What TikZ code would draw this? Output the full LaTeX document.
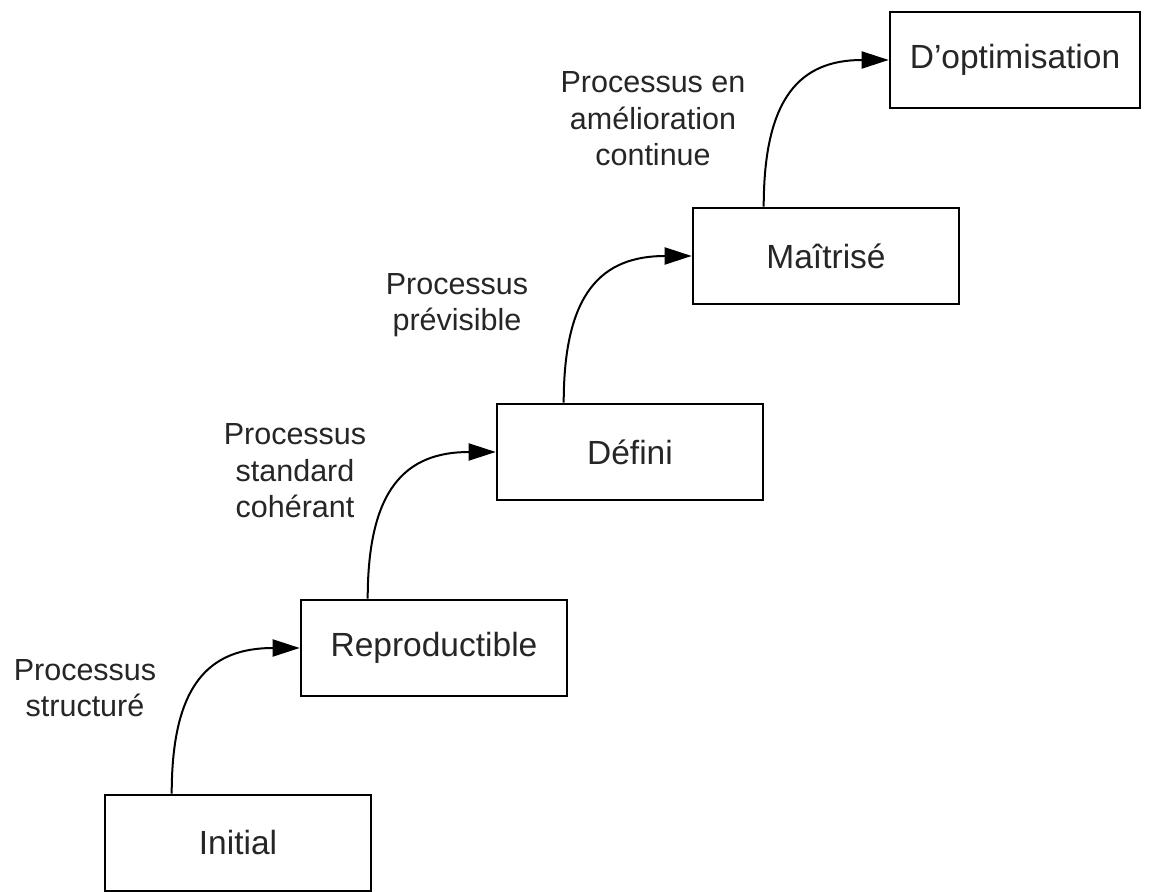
\documentclass[tikz,border=0pt]{standalone}
\usepackage{fontspec}
\setmainfont{Liberation Sans}
\usetikzlibrary{arrows.meta}

\tikzset{
  level/.style={draw=black, line width=2.6pt, fill=white, minimum width=266pt,
    minimum height=96pt, inner sep=0pt, text=black!85,
    font=\fontsize{33.5}{40}\selectfont},
  note/.style={align=center, inner sep=0pt, text=black!85,
    font=\fontsize{30.5}{36.5}\selectfont},
  stepup/.style={draw=black, line width=2pt,
    -{Triangle[length=27pt,width=17pt]}},
}

\begin{document}
\begin{tikzpicture}[x=1pt,y=1pt]
  \useasboundingbox[fill=white] (0,0) rectangle (1150,891);

  % maturity levels
  \node[level] (initial) at (238,48) {Initial};
  \node[level] (repro)   at (434,243) {Reproductible};
  \node[level] (defini)  at (630,439) {Défini};
  \node[level] (maitrise) at (826,635) {Maîtrisé};
  \node[level, minimum width=250pt] (optim) at (1015,831) {D’optimisation};

  % process descriptions
  \node[note] (n1) at (85,203) {Processus\\structuré};
  \node[note] (n2) at (295,420) {Processus\\standard\\cohérant};
  \node[note] (n3) at (457,586) {Processus\\prévisible};
  \node[note] (n4) at (653,772) {Processus en\\amélioration\\continue};

  % transitions between levels
  \draw[stepup] ([xshift=68pt]initial.north west)
    .. controls +(0,110) and +(-90,0) .. (repro.west);
  \draw[stepup] ([xshift=68pt]repro.north west)
    .. controls +(0,110) and +(-90,0) .. (defini.west);
  \draw[stepup] ([xshift=68pt]defini.north west)
    .. controls +(0,110) and +(-90,0) .. (maitrise.west);
  \draw[stepup] ([xshift=72pt]maitrise.north west)
    .. controls +(0,110) and +(-88,0) .. (optim.west);
\end{tikzpicture}
\end{document}
